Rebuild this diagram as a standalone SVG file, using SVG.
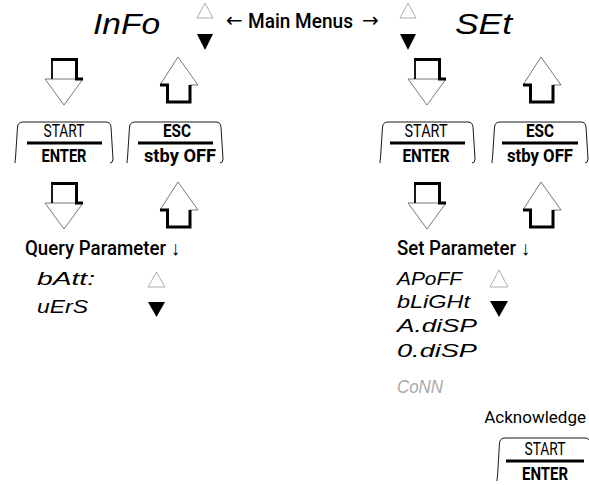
<svg xmlns="http://www.w3.org/2000/svg" xmlns:xlink="http://www.w3.org/1999/xlink" width="589" height="485" viewBox="0 0 589 485">
<style>
.lbl{font-family:Roboto,"Liberation Sans",Arial,sans-serif;font-weight:500;fill:#000}
.reg{font-weight:400}
.b{font-weight:bold}
.arr{font-family:"DejaVu Sans",sans-serif;font-weight:normal;fill:#000}
.seg{font-family:"DejaVu Sans ExtraLight","Liberation Sans",sans-serif;font-style:italic;font-weight:200;fill:#000}
.key{fill:none;stroke:#000;stroke-width:0.9}
.bar{stroke:#000;stroke-width:3}
.tri-o{fill:#fff;stroke:#999;stroke-width:0.8}
.tri-f{fill:#000}
.head{fill:#fff;stroke:#555;stroke-width:0.8}
.shadow{fill:none;stroke:#000;stroke-width:3}
</style>
<defs>
<g id="dn">
<polygon class="head" points="7,21 0,21 19,47 38,21 32,21"/>
<line x1="7" y1="1" x2="7" y2="21" stroke="#000" stroke-width="1.8"/>
<path class="shadow" d="M6,1.5 H31.5 V21 H38"/>
</g>
<g id="up">
<polygon class="head" points="0,28 18,0 38,28 30,28 30,45 7.5,45 7.5,28"/>
<path class="shadow" d="M0,28 H7.5 V45 H30 V28"/>
</g>
</defs>
<rect width="589" height="485" fill="#fff"/>

<g id="menu-info"><text class="seg" x="93" y="34" font-size="30" textLength="67" lengthAdjust="spacingAndGlyphs">InFo</text></g>
<g id="menu-set"><text class="seg" x="455" y="34" font-size="30" textLength="57" lengthAdjust="spacingAndGlyphs">SEt</text></g>
<g id="main-menus">
<text class="arr" x="226" y="27" font-size="20">←</text>
<text class="lbl" x="248" y="28" font-size="20" textLength="105" lengthAdjust="spacingAndGlyphs">Main Menus</text>
<text class="arr" x="362" y="27" font-size="20">→</text>
</g>

<g id="nav-top-left">
<polygon class="tri-o" points="197,18 205,3 213,18"/>
<polygon class="tri-f" points="197,34 213,34 205,50"/>
</g>
<g id="nav-top-right">
<polygon class="tri-o" points="400,18 408,3 416,18"/>
<polygon class="tri-f" points="400,34 416,34 408,50"/>
</g>

<g id="key-info-enter">
<path class="key" d="M15,163 Q15,161 15.5,158 L17.5,127 Q18,122 23,122 L106,122 Q110.5,122 111,127 L113,159 Q113,163 110,163"/>
<text class="lbl reg" x="64" y="137" font-size="18" text-anchor="middle" textLength="41" lengthAdjust="spacingAndGlyphs">START</text>
<line class="bar" x1="27" y1="143" x2="102" y2="143"/>
<text class="lbl b" x="64" y="162" font-size="18" text-anchor="middle" textLength="45" lengthAdjust="spacingAndGlyphs">ENTER</text>
</g>
<g id="key-info-esc">
<path class="key" d="M127,163 Q127,161 127.5,158 L129.5,127 Q130,122 135,122 L216,122 Q220.5,122 221,127 L223,159 Q223,163 220,163"/>
<text class="lbl b" x="177" y="137" font-size="18" text-anchor="middle" textLength="28" lengthAdjust="spacingAndGlyphs">ESC</text>
<line class="bar" x1="138" y1="143" x2="213" y2="143"/>
<text class="lbl b" x="180" y="162" font-size="18" text-anchor="middle" textLength="72" lengthAdjust="spacingAndGlyphs">stby OFF</text>
</g>
<g id="key-set-enter">
<path class="key" d="M380,163 Q380,161 380.5,158 L382.5,127 Q383,122 388,122 L468,122 Q472.5,122 473,127 L475,159 Q475,163 472,163"/>
<text class="lbl reg" x="426" y="137" font-size="18" text-anchor="middle" textLength="43" lengthAdjust="spacingAndGlyphs">START</text>
<line class="bar" x1="390" y1="143" x2="465" y2="143"/>
<text class="lbl b" x="426" y="162" font-size="18" text-anchor="middle" textLength="47" lengthAdjust="spacingAndGlyphs">ENTER</text>
</g>
<g id="key-set-esc">
<path class="key" d="M492,163 Q492,161 492.5,158 L494.5,127 Q495,122 500,122 L581,122 Q585.5,122 586,127 L588,159 Q588,163 585,163"/>
<text class="lbl b" x="540" y="137" font-size="18" text-anchor="middle" textLength="28" lengthAdjust="spacingAndGlyphs">ESC</text>
<line class="bar" x1="502" y1="143" x2="578" y2="143"/>
<text class="lbl b" x="540" y="162" font-size="18" text-anchor="middle" textLength="66" lengthAdjust="spacingAndGlyphs">stby OFF</text>
</g>

<g id="connectors">
<use xlink:href="#dn" x="45" y="58"/>
<use xlink:href="#up" x="160" y="57"/>
<use xlink:href="#dn" x="408" y="58"/>
<use xlink:href="#up" x="523" y="57"/>
<use xlink:href="#dn" x="45" y="182"/>
<use xlink:href="#up" x="160" y="182"/>
<use xlink:href="#dn" x="408" y="182"/>
<use xlink:href="#up" x="523" y="182"/>
</g>

<g id="query-parameter">
<text class="lbl" x="25" y="255" font-size="20" textLength="155" lengthAdjust="spacingAndGlyphs">Query Parameter ↓</text>
<text class="seg" x="37" y="285" font-size="18" textLength="58" lengthAdjust="spacingAndGlyphs">bAtt:</text>
<text class="seg" x="37" y="313" font-size="18" textLength="51" lengthAdjust="spacingAndGlyphs">uErS</text>
<polygon class="tri-o" points="148,287 156.5,272 165,287"/>
<polygon class="tri-f" points="148,302 165,302 156.5,317"/>
</g>

<g id="set-parameter">
<text class="lbl" x="397" y="255" font-size="20" textLength="133" lengthAdjust="spacingAndGlyphs">Set Parameter ↓</text>
<text class="seg" x="397" y="285" font-size="18" textLength="65" lengthAdjust="spacingAndGlyphs">APoFF</text>
<text class="seg" x="397" y="308" font-size="18" textLength="73" lengthAdjust="spacingAndGlyphs">bLiGHt</text>
<text class="seg" x="397" y="332" font-size="18" textLength="80" lengthAdjust="spacingAndGlyphs">A.diSP</text>
<text class="seg" x="397" y="357" font-size="18" textLength="80" lengthAdjust="spacingAndGlyphs">0.diSP</text>
<text class="seg" x="397" y="393" font-size="18" textLength="46" lengthAdjust="spacingAndGlyphs" style="fill:#aaa">CoNN</text>
<polygon class="tri-o" points="490,287 499,270 508,287"/>
<polygon class="tri-f" points="490,301 508,301 499,317"/>
</g>

<g id="acknowledge">
<text class="lbl reg" x="586" y="423" font-size="17" text-anchor="end">Acknowledge</text>
<path class="key" d="M497,481 Q497,479 497.5,476 L499.5,443 Q500,438 505,438 L586,438 Q588,438 589,440"/>
<text class="lbl reg" x="545" y="455" font-size="18" text-anchor="middle" textLength="41" lengthAdjust="spacingAndGlyphs">START</text>
<line class="bar" x1="506" y1="461" x2="584" y2="461"/>
<text class="lbl b" x="545" y="480" font-size="18" text-anchor="middle" textLength="46" lengthAdjust="spacingAndGlyphs">ENTER</text>
</g>
</svg>
